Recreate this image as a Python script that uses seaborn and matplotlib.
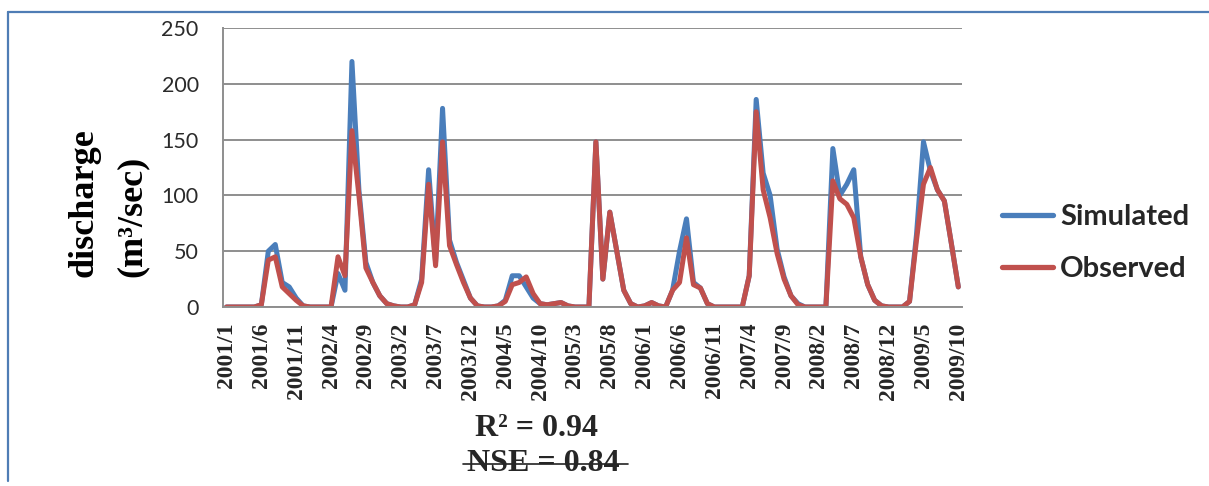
import numpy as np
import pandas as pd
import matplotlib
matplotlib.use("Agg")
import matplotlib.pyplot as plt
from matplotlib.lines import Line2D
import seaborn as sns

# Monthly discharge, January 2001 to October 2009 (m3/sec)
years = list(range(2001, 2010))
months = [f"{y}/{m}" for y in years for m in range(1, 13)][:106]

simulated = [
    0, 0, 0, 0, 0, 2, 50, 56, 22, 18, 8, 1,            # 2001
    0, 0, 0, 0, 30, 15, 220, 105, 40, 22, 10, 3,       # 2002
    1, 0, 0, 2, 25, 123, 40, 178, 60, 40, 24, 8,       # 2003
    1, 0, 0, 1, 6, 28, 28, 18, 8, 3, 2, 3,             # 2004
    4, 1, 0, 0, 0, 148, 25, 85, 50, 15, 3, 0,          # 2005
    1, 4, 1, 0, 15, 50, 79, 22, 17, 3, 0, 0,           # 2006
    0, 0, 0, 28, 186, 120, 100, 52, 27, 10, 3, 0,      # 2007
    0, 0, 0, 142, 100, 110, 123, 45, 20, 6, 1, 0,      # 2008
    0, 0, 5, 65, 148, 122, 105, 95, 57, 18,            # 2009
]
observed = [
    0, 0, 0, 0, 0, 2, 42, 45, 18, 12, 6, 1,            # 2001
    0, 0, 0, 0, 45, 28, 158, 100, 35, 22, 10, 3,       # 2002
    1, 0, 0, 2, 22, 110, 37, 148, 55, 38, 22, 8,       # 2003
    1, 0, 0, 1, 5, 20, 22, 27, 12, 3, 2, 3,            # 2004
    4, 1, 0, 0, 0, 148, 25, 85, 50, 15, 3, 0,          # 2005
    1, 4, 1, 0, 15, 22, 62, 20, 17, 3, 0, 0,           # 2006
    0, 0, 0, 28, 175, 105, 80, 48, 25, 10, 2, 0,       # 2007
    0, 0, 0, 113, 97, 92, 80, 45, 20, 6, 1, 0,         # 2008
    0, 0, 5, 60, 110, 125, 105, 95, 57, 18,            # 2009
]
series_names = ["Simulated", "Observed"]
series_colors = ["#4A7EBB", "#C0504D"]
y_ticks = [0, 50, 100, 150, 200, 250]
stats_lines = ["R\u00b2 = 0.94", "NSE = 0.84"]

n = len(months)
df = pd.DataFrame({
    "idx": np.concatenate([np.arange(n), np.arange(n)]),
    "discharge": simulated + observed,
    "series": [series_names[0]] * n + [series_names[1]] * n,
})

sns.set_theme(style="white")
plt.rcParams["font.family"] = ["Lato", "DejaVu Sans"]

W, H = 1209, 486
def fx(px):
    return px / W
def fy(py):
    return 1 - py / H

fig = plt.figure(figsize=(W / 100, H / 100), dpi=100)
fig.patch.set_facecolor("white")

ax = fig.add_axes([fx(223), fy(307), 738.8 / W, (307 - 28) / H])

sns.lineplot(data=df, x="idx", y="discharge", hue="series",
             hue_order=series_names, palette=series_colors,
             linewidth=3.6, legend=False, ax=ax, sort=False)
for ln in ax.lines:
    ln.set_solid_capstyle("round")
    ln.set_solid_joinstyle("round")

grid_col = "#8E8E8E"
ax.set_xlim(-0.5, n - 0.5)
ax.set_ylim(0, 250)
ax.set_yticks(y_ticks)
ax.yaxis.grid(True, color=grid_col, linewidth=1.4)
ax.xaxis.grid(False)
ax.set_axisbelow(True)
for s in ["top", "right"]:
    ax.spines[s].set_visible(False)
for s in ["left", "bottom"]:
    ax.spines[s].set_color(grid_col)
    ax.spines[s].set_linewidth(1.4)

ax.tick_params(axis="y", direction="out", length=6.5, width=1.4,
               color=grid_col, pad=11, labelsize=15.5, labelcolor="#2a2a2a")

tick_pos = list(range(0, n, 5))
ax.set_xticks(tick_pos)
ax.set_xticklabels([months[i] for i in tick_pos], rotation=90,
                   family="Liberation Serif", fontweight="bold", fontsize=17)
ax.set_xticks(np.arange(-0.5, n, 1), minor=True)
ax.tick_params(axis="x", which="major", length=0, pad=11)
ax.tick_params(axis="x", which="minor", direction="out", length=3.6,
               width=1.0, color=grid_col)
ax.set_xlabel("")
ax.set_ylabel("")

# rotated two-line axis title
for txt, xc in [("discharge", 84), ("(m\u00b3/sec)", 132)]:
    fig.text(fx(xc), fy(277), txt, rotation=90, rotation_mode="anchor",
             ha="left", va="center", family="Liberation Serif",
             fontweight="bold", fontsize=26, color="black")

# legend
handles = [Line2D([0], [0], color=c, linewidth=3.8) for c in series_colors]
fig.legend(handles, series_names, loc="center left",
           bbox_to_anchor=(fx(1002), fy(243)), frameon=False, borderpad=0,
           borderaxespad=0, handlelength=1.75, handletextpad=0.25,
           labelspacing=0.9,
           prop={"family": "Lato", "weight": "bold", "size": 21})

# fit statistics
fig.text(fx(475), fy(428), stats_lines[0], ha="left", va="center",
         family="Liberation Serif", fontweight="bold", fontsize=23)
fig.text(fx(467), fy(463), stats_lines[1], ha="left", va="center",
         family="Liberation Serif", fontweight="bold", fontsize=23)
fig.add_artist(Line2D([fx(463), fx(628)], [fy(464), fy(464)],
                      color="#222222", linewidth=1.2))

# chart frame
frame_col = "#4F7DB5"
fig.add_artist(Line2D([fx(7.5), 1.0], [fy(12.5), fy(12.5)],
                      color=frame_col, linewidth=1.6))
fig.add_artist(Line2D([fx(7.5), fx(7.5)], [fy(12.5), fy(481)],
                      color=frame_col, linewidth=1.6))

fig.savefig("out.png", dpi=100)
